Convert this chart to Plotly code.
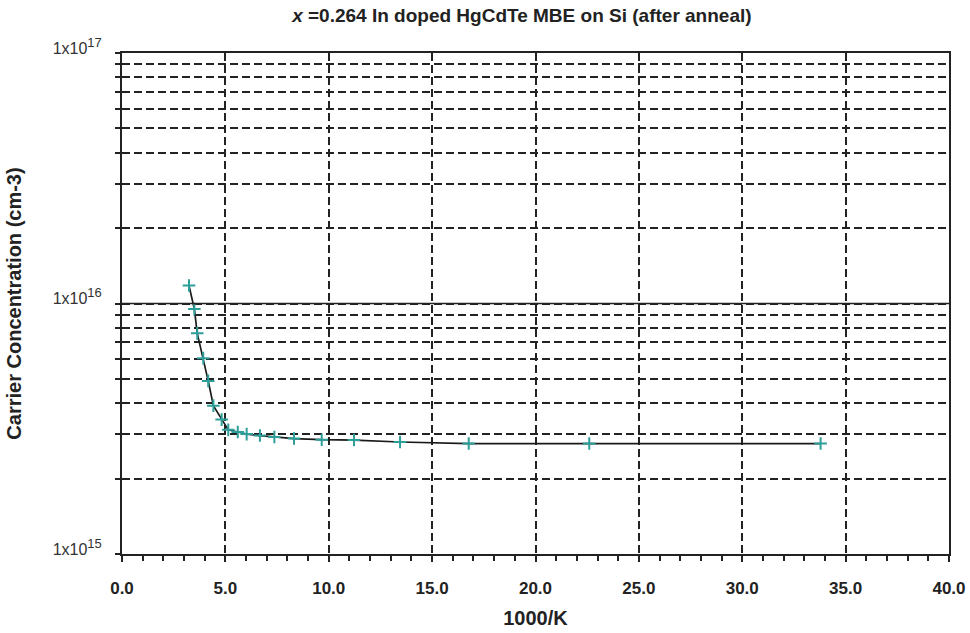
import plotly.graph_objects as go

# Hall data: inverse temperature (1000/K) vs. carrier concentration (cm^-3)
inv_temp = [3.24, 3.50, 3.64, 3.93, 4.17, 4.42, 4.82, 5.14, 5.60, 6.03,
            6.67, 7.37, 8.32, 9.66, 11.22, 13.45, 16.77, 22.60, 33.79]
carrier_conc = [1.18e16, 9.5e15, 7.6e15, 6.05e15, 4.91e15, 3.91e15, 3.44e15,
                3.13e15, 3.07e15, 3.01e15, 2.97e15, 2.93e15, 2.89e15, 2.86e15,
                2.85e15, 2.80e15, 2.76e15, 2.76e15, 2.76e15]

x_ticks = [0, 5, 10, 15, 20, 25, 30, 35, 40]
x_tick_text = ["0.0", "5.0", "10.0", "15.0", "20.0", "25.0", "30.0", "35.0", "40.0"]

decades = [15, 16]
SUP = "1x10<sup><span style='font-size:13px'>%d</span></sup>"
y_grid_vals = [m * 10.0 ** e for e in decades for m in range(1, 10)] + [1e17]
y_grid_text = [(SUP % e if m == 1 else "")
               for e in decades for m in range(1, 10)] + [SUP % 17]

FONT = "Liberation Sans, Arial, sans-serif"
INK = "#222222"
GRID_DASH = "8px,4px"

fig = go.Figure()
fig.add_trace(go.Scatter(
    x=inv_temp, y=carrier_conc, mode="lines+markers",
    line=dict(color="#1a1a1a", width=1.7),
    marker=dict(symbol="cross-thin", size=9,
                line=dict(color="#2E9E9A", width=2)),
    showlegend=False,
))

# solid reference line at the middle decade
fig.add_hline(y=1e16, line=dict(color=INK, width=1.7))

fig.update_layout(
    width=970, height=633,
    margin=dict(l=122, r=21, t=53, b=79),
    paper_bgcolor="white", plot_bgcolor="white",
    font=dict(family=FONT, color=INK),
    title=dict(
        text="<i>x</i> =0.264 In doped HgCdTe MBE on Si (after anneal)",
        x=0.538, xanchor="center", y=0.975, yanchor="middle",
        font=dict(family=FONT, size=19, color=INK, weight="bold"),
    ),
    xaxis=dict(
        range=[0, 40], tickvals=x_ticks, ticktext=x_tick_text,
        showgrid=True, gridcolor=INK, gridwidth=1.6, griddash=GRID_DASH,
        showline=True, linecolor=INK, linewidth=2, mirror=True,
        ticks="outside", ticklen=6, tickwidth=2, tickcolor=INK,
        minor=dict(dtick=1, tick0=0, ticks="outside", ticklen=5,
                   tickwidth=1.5, tickcolor=INK, showgrid=False),
        tickfont=dict(family=FONT, size=17, color=INK, weight="bold"),
        ticklabelstandoff=12,
        title=dict(text="1000/K", standoff=14,
                   font=dict(family=FONT, size=20, color=INK, weight="bold")),
        zeroline=False, automargin=False,
    ),
    yaxis=dict(
        type="log", range=[15, 17],
        tickvals=y_grid_vals, ticktext=y_grid_text,
        showgrid=True, gridcolor=INK, gridwidth=1.6, griddash=GRID_DASH,
        showline=True, linecolor=INK, linewidth=2, mirror=True,
        ticks="outside", ticklen=5, tickwidth=1.5, tickcolor=INK,
        tickfont=dict(family=FONT, size=16, color="#333333"),
        ticklabelstandoff=10, ticklabelshift=-5,
        title=dict(text="Carrier Concentration (cm-3)", standoff=26,
                   font=dict(family=FONT, size=20, color=INK, weight="bold")),
        zeroline=False, automargin=False,
    ),
)

fig.write_html("out.html")
